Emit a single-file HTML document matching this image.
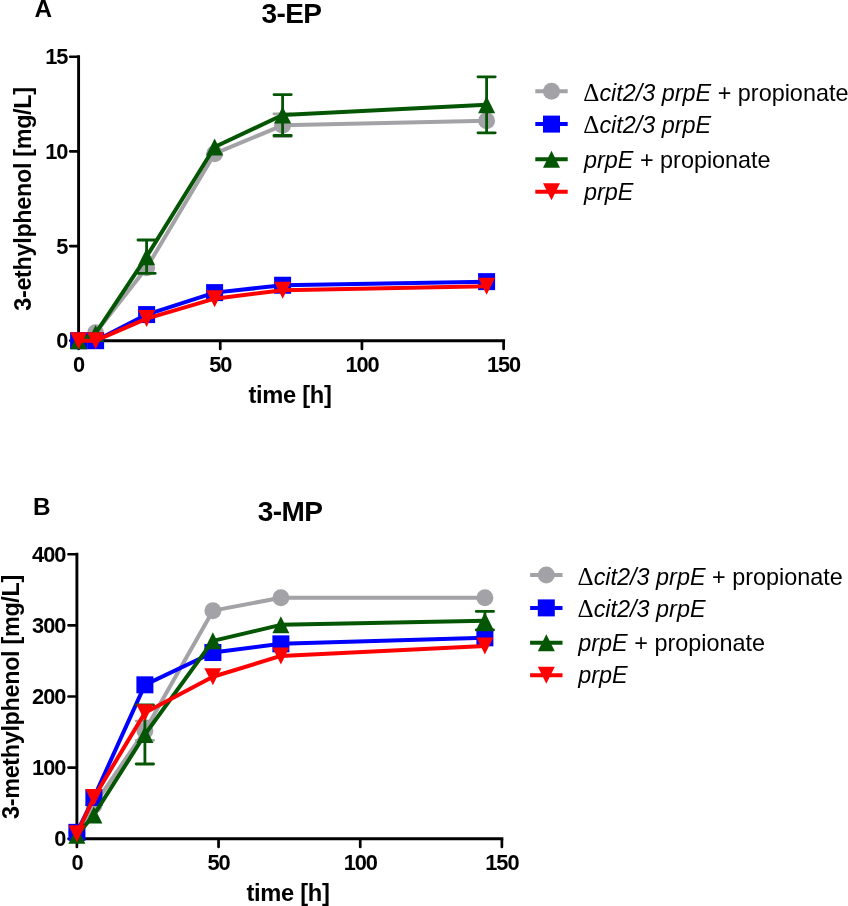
<!DOCTYPE html>
<html lang="en">
<head>
<meta charset="utf-8">
<title>3-EP and 3-MP production</title>
<style>
html,body{margin:0;padding:0;background:#fff;}
body{width:848px;height:906px;overflow:hidden;}
svg{display:block;}
text{font-family:"Liberation Sans",sans-serif;fill:#000;}
.tk{font-size:21.8px;font-weight:bold;letter-spacing:-1.1px;}
.ax{font-size:23.7px;font-weight:bold;letter-spacing:-0.33px;}
.yl{font-size:23.4px;}
.tit{font-size:28.0px;font-weight:bold;letter-spacing:-0.6px;}
.let{font-size:24.3px;font-weight:bold;}
.lg{font-size:23.4px;}
.it{font-style:italic;}
.dl{font-family:"Liberation Serif","DejaVu Serif",serif;font-size:25px;}
</style>
</head>
<body>
<svg width="848" height="906" viewBox="0 0 848 906">
<rect width="848" height="906" fill="#fff"/>
<g class="chart">
<text class="let" x="34.4" y="17.3">A</text>
<text class="tit" x="291.5" y="22.6" text-anchor="middle">3-EP</text>
<text class="ax yl" transform="translate(31.0 199.0) rotate(-90)" text-anchor="middle">3-ethylphenol [mg/L]</text>
<text class="ax" x="290.0" y="402.6" text-anchor="middle">time [h]</text>
<text class="tk" x="67.2" y="348.20" text-anchor="end">0</text>
<text class="tk" x="67.2" y="253.55" text-anchor="end">5</text>
<text class="tk" x="67.2" y="158.90" text-anchor="end">10</text>
<text class="tk" x="67.2" y="64.25" text-anchor="end">15</text>
<text class="tk" x="78.60" y="372.3" text-anchor="middle">0</text>
<text class="tk" x="220.26" y="372.3" text-anchor="middle">50</text>
<text class="tk" x="361.93" y="372.3" text-anchor="middle">100</text>
<text class="tk" x="503.60" y="372.3" text-anchor="middle">150</text>
<path d="M78.60 55.30V342.15M77.15 340.70H505.05" stroke="#000" stroke-width="2.9" fill="none"/>
<path d="M70.20 340.70H78.10M70.20 246.05H78.10M70.20 151.40H78.10M70.20 56.75H78.10M78.60 341.20V348.90M220.26 341.20V348.90M361.93 341.20V348.90M503.60 341.20V348.90" stroke="#000" stroke-width="2.7" stroke-linecap="round" fill="none"/>
<g class="s-gray"><path d="M282.60 113.92V136.63M273.95 113.92H291.25M273.95 136.63H291.25" stroke="#a3a3a7" stroke-width="2.8" stroke-linecap="round" fill="none"/>
<path d="M78.60 340.70 L95.60 332.75 L146.60 267.82 L214.60 153.67 L282.60 125.28 L486.60 120.73" stroke="#a3a3a7" stroke-width="4.0" fill="none" stroke-linejoin="round"/>
<circle cx="78.60" cy="340.70" r="8.50" fill="#a3a3a7"/>
<circle cx="95.60" cy="332.75" r="8.50" fill="#a3a3a7"/>
<circle cx="146.60" cy="267.82" r="8.50" fill="#a3a3a7"/>
<circle cx="214.60" cy="153.67" r="8.50" fill="#a3a3a7"/>
<circle cx="282.60" cy="125.28" r="8.50" fill="#a3a3a7"/>
<circle cx="486.60" cy="120.73" r="8.50" fill="#a3a3a7"/></g>
<g class="s-blue"><path d="M78.60 340.70 L95.60 340.70 L146.60 314.58 L214.60 292.62 L282.60 285.24 L486.60 281.64" stroke="#0000ff" stroke-width="4.0" fill="none" stroke-linejoin="round"/>
<rect x="70.10" y="332.20" width="17.00" height="17.00" fill="#0000ff"/>
<rect x="87.10" y="332.20" width="17.00" height="17.00" fill="#0000ff"/>
<rect x="138.10" y="306.08" width="17.00" height="17.00" fill="#0000ff"/>
<rect x="206.10" y="284.12" width="17.00" height="17.00" fill="#0000ff"/>
<rect x="274.10" y="276.74" width="17.00" height="17.00" fill="#0000ff"/>
<rect x="478.10" y="273.14" width="17.00" height="17.00" fill="#0000ff"/></g>
<g class="s-green"><path d="M146.60 239.99V273.31M137.95 239.99H155.25M137.95 273.31H155.25" stroke="#045504" stroke-width="2.8" stroke-linecap="round" fill="none"/>
<path d="M282.60 94.61V135.50M273.95 94.61H291.25M273.95 135.50H291.25" stroke="#045504" stroke-width="2.8" stroke-linecap="round" fill="none"/>
<path d="M486.60 76.82V132.85M477.95 76.82H495.25M477.95 132.85H495.25" stroke="#045504" stroke-width="2.8" stroke-linecap="round" fill="none"/>
<path d="M78.60 340.70 L95.60 333.41 L146.60 256.65 L214.60 147.05 L282.60 115.05 L486.60 104.83" stroke="#045504" stroke-width="4.0" fill="none" stroke-linejoin="round"/>
<polygon points="78.60,332.20 87.10,349.20 70.10,349.20" fill="#045504"/>
<polygon points="95.60,324.91 104.10,341.91 87.10,341.91" fill="#045504"/>
<polygon points="146.60,248.15 155.10,265.15 138.10,265.15" fill="#045504"/>
<polygon points="214.60,138.55 223.10,155.55 206.10,155.55" fill="#045504"/>
<polygon points="282.60,106.55 291.10,123.55 274.10,123.55" fill="#045504"/>
<polygon points="486.60,96.33 495.10,113.33 478.10,113.33" fill="#045504"/></g>
<g class="s-red"><path d="M78.60 340.70 L95.60 340.70 L146.60 318.55 L214.60 298.68 L282.60 290.16 L486.60 286.37" stroke="#ff0000" stroke-width="4.0" fill="none" stroke-linejoin="round"/>
<polygon points="70.10,332.20 87.10,332.20 78.60,349.20" fill="#ff0000"/>
<polygon points="87.10,332.20 104.10,332.20 95.60,349.20" fill="#ff0000"/>
<polygon points="138.10,310.05 155.10,310.05 146.60,327.05" fill="#ff0000"/>
<polygon points="206.10,290.18 223.10,290.18 214.60,307.18" fill="#ff0000"/>
<polygon points="274.10,281.66 291.10,281.66 282.60,298.66" fill="#ff0000"/>
<polygon points="478.10,277.87 495.10,277.87 486.60,294.87" fill="#ff0000"/></g>
<path d="M535.30 91.20H567.70" stroke="#a3a3a7" stroke-width="4.0"/>
<circle cx="551.50" cy="91.20" r="8.50" fill="#a3a3a7"/>
<text class="lg" x="583.30" y="100.50"><tspan class="dl">Δ</tspan><tspan class="it">cit2/3 prpE</tspan> + propionate</text>
<path d="M535.30 124.10H567.70" stroke="#0000ff" stroke-width="4.0"/>
<rect x="543.00" y="115.60" width="17.00" height="17.00" fill="#0000ff"/>
<text class="lg" x="583.30" y="133.00"><tspan class="dl">Δ</tspan><tspan class="it">cit2/3 prpE</tspan></text>
<path d="M535.30 159.30H567.70" stroke="#045504" stroke-width="4.0"/>
<polygon points="551.50,150.80 560.00,167.80 543.00,167.80" fill="#045504"/>
<text class="lg" x="584.00" y="167.70"><tspan class="it">prpE</tspan> + propionate</text>
<path d="M535.30 191.80H567.70" stroke="#ff0000" stroke-width="4.0"/>
<polygon points="543.00,183.30 560.00,183.30 551.50,200.30" fill="#ff0000"/>
<text class="lg" x="584.00" y="200.00"><tspan class="it">prpE</tspan></text>
</g>
<g class="chart">
<text class="let" x="33.0" y="514.5">B</text>
<text class="tit" x="290.0" y="521.0" text-anchor="middle">3-MP</text>
<text class="ax yl" transform="translate(19.0 697.0) rotate(-90)" text-anchor="middle">3-methylphenol [mg/L]</text>
<text class="ax" x="288.0" y="901.2" text-anchor="middle">time [h]</text>
<text class="tk" x="65.2" y="846.25" text-anchor="end">0</text>
<text class="tk" x="65.2" y="775.12" text-anchor="end">100</text>
<text class="tk" x="65.2" y="703.99" text-anchor="end">200</text>
<text class="tk" x="65.2" y="632.86" text-anchor="end">300</text>
<text class="tk" x="65.2" y="561.73" text-anchor="end">400</text>
<text class="tk" x="76.90" y="869.6" text-anchor="middle">0</text>
<text class="tk" x="218.56" y="869.6" text-anchor="middle">50</text>
<text class="tk" x="360.23" y="869.6" text-anchor="middle">100</text>
<text class="tk" x="501.89" y="869.6" text-anchor="middle">150</text>
<path d="M76.90 552.78V840.20M75.45 838.75H503.34" stroke="#000" stroke-width="2.9" fill="none"/>
<path d="M68.50 838.75H76.40M68.50 767.62H76.40M68.50 696.49H76.40M68.50 625.36H76.40M68.50 554.23H76.40M76.90 839.25V846.95M218.56 839.25V846.95M360.23 839.25V846.95M501.89 839.25V846.95" stroke="#000" stroke-width="2.7" stroke-linecap="round" fill="none"/>
<g class="s-gray"><path d="M144.90 721.10V740.45M136.25 721.10H153.55M136.25 740.45H153.55" stroke="#a3a3a7" stroke-width="2.8" stroke-linecap="round" fill="none"/>
<path d="M76.90 833.06 L93.90 805.32 L144.90 730.77 L212.90 610.64 L280.90 597.76 L484.90 597.76" stroke="#a3a3a7" stroke-width="4.0" fill="none" stroke-linejoin="round"/>
<circle cx="76.90" cy="833.06" r="8.50" fill="#a3a3a7"/>
<circle cx="93.90" cy="805.32" r="8.50" fill="#a3a3a7"/>
<circle cx="144.90" cy="730.77" r="8.50" fill="#a3a3a7"/>
<circle cx="212.90" cy="610.64" r="8.50" fill="#a3a3a7"/>
<circle cx="280.90" cy="597.76" r="8.50" fill="#a3a3a7"/>
<circle cx="484.90" cy="597.76" r="8.50" fill="#a3a3a7"/></g>
<g class="s-blue"><path d="M76.90 832.35 L93.90 797.49 L144.90 684.82 L212.90 652.53 L280.90 643.85 L484.90 637.81" stroke="#0000ff" stroke-width="4.0" fill="none" stroke-linejoin="round"/>
<rect x="68.40" y="823.85" width="17.00" height="17.00" fill="#0000ff"/>
<rect x="85.40" y="788.99" width="17.00" height="17.00" fill="#0000ff"/>
<rect x="136.40" y="676.32" width="17.00" height="17.00" fill="#0000ff"/>
<rect x="204.40" y="644.03" width="17.00" height="17.00" fill="#0000ff"/>
<rect x="272.40" y="635.35" width="17.00" height="17.00" fill="#0000ff"/>
<rect x="476.40" y="629.31" width="17.00" height="17.00" fill="#0000ff"/></g>
<g class="s-green"><path d="M144.90 704.95V763.99M136.25 704.95H153.55M136.25 763.99H153.55" stroke="#045504" stroke-width="2.8" stroke-linecap="round" fill="none"/>
<path d="M484.90 611.42V629.91M476.25 611.42H493.55M476.25 629.91H493.55" stroke="#045504" stroke-width="2.8" stroke-linecap="round" fill="none"/>
<path d="M76.90 835.19 L93.90 814.92 L144.90 734.47 L212.90 640.87 L280.90 624.86 L484.90 620.67" stroke="#045504" stroke-width="4.0" fill="none" stroke-linejoin="round"/>
<polygon points="76.90,826.69 85.40,843.69 68.40,843.69" fill="#045504"/>
<polygon points="93.90,806.42 102.40,823.42 85.40,823.42" fill="#045504"/>
<polygon points="144.90,725.97 153.40,742.97 136.40,742.97" fill="#045504"/>
<polygon points="212.90,632.37 221.40,649.37 204.40,649.37" fill="#045504"/>
<polygon points="280.90,616.36 289.40,633.36 272.40,633.36" fill="#045504"/>
<polygon points="484.90,612.17 493.40,629.17 476.40,629.17" fill="#045504"/></g>
<g class="s-red"><path d="M76.90 833.77 L93.90 797.49 L144.90 712.71 L212.90 676.72 L280.90 655.95 L484.90 645.99" stroke="#ff0000" stroke-width="4.0" fill="none" stroke-linejoin="round"/>
<polygon points="68.40,825.27 85.40,825.27 76.90,842.27" fill="#ff0000"/>
<polygon points="85.40,788.99 102.40,788.99 93.90,805.99" fill="#ff0000"/>
<polygon points="136.40,704.21 153.40,704.21 144.90,721.21" fill="#ff0000"/>
<polygon points="204.40,668.22 221.40,668.22 212.90,685.22" fill="#ff0000"/>
<polygon points="272.40,647.45 289.40,647.45 280.90,664.45" fill="#ff0000"/>
<polygon points="476.40,637.49 493.40,637.49 484.90,654.49" fill="#ff0000"/></g>
<path d="M530.10 574.90H562.50" stroke="#a3a3a7" stroke-width="4.0"/>
<circle cx="546.30" cy="574.90" r="8.50" fill="#a3a3a7"/>
<text class="lg" x="577.60" y="585.30"><tspan class="dl">Δ</tspan><tspan class="it">cit2/3 prpE</tspan> + propionate</text>
<path d="M530.10 607.90H562.50" stroke="#0000ff" stroke-width="4.0"/>
<rect x="537.80" y="599.40" width="17.00" height="17.00" fill="#0000ff"/>
<text class="lg" x="577.60" y="617.40"><tspan class="dl">Δ</tspan><tspan class="it">cit2/3 prpE</tspan></text>
<path d="M530.10 642.70H562.50" stroke="#045504" stroke-width="4.0"/>
<polygon points="546.30,634.20 554.80,651.20 537.80,651.20" fill="#045504"/>
<text class="lg" x="578.30" y="651.20"><tspan class="it">prpE</tspan> + propionate</text>
<path d="M530.10 675.30H562.50" stroke="#ff0000" stroke-width="4.0"/>
<polygon points="537.80,666.80 554.80,666.80 546.30,683.80" fill="#ff0000"/>
<text class="lg" x="578.30" y="683.00"><tspan class="it">prpE</tspan></text>
</g>
</svg>
</body>
</html>
